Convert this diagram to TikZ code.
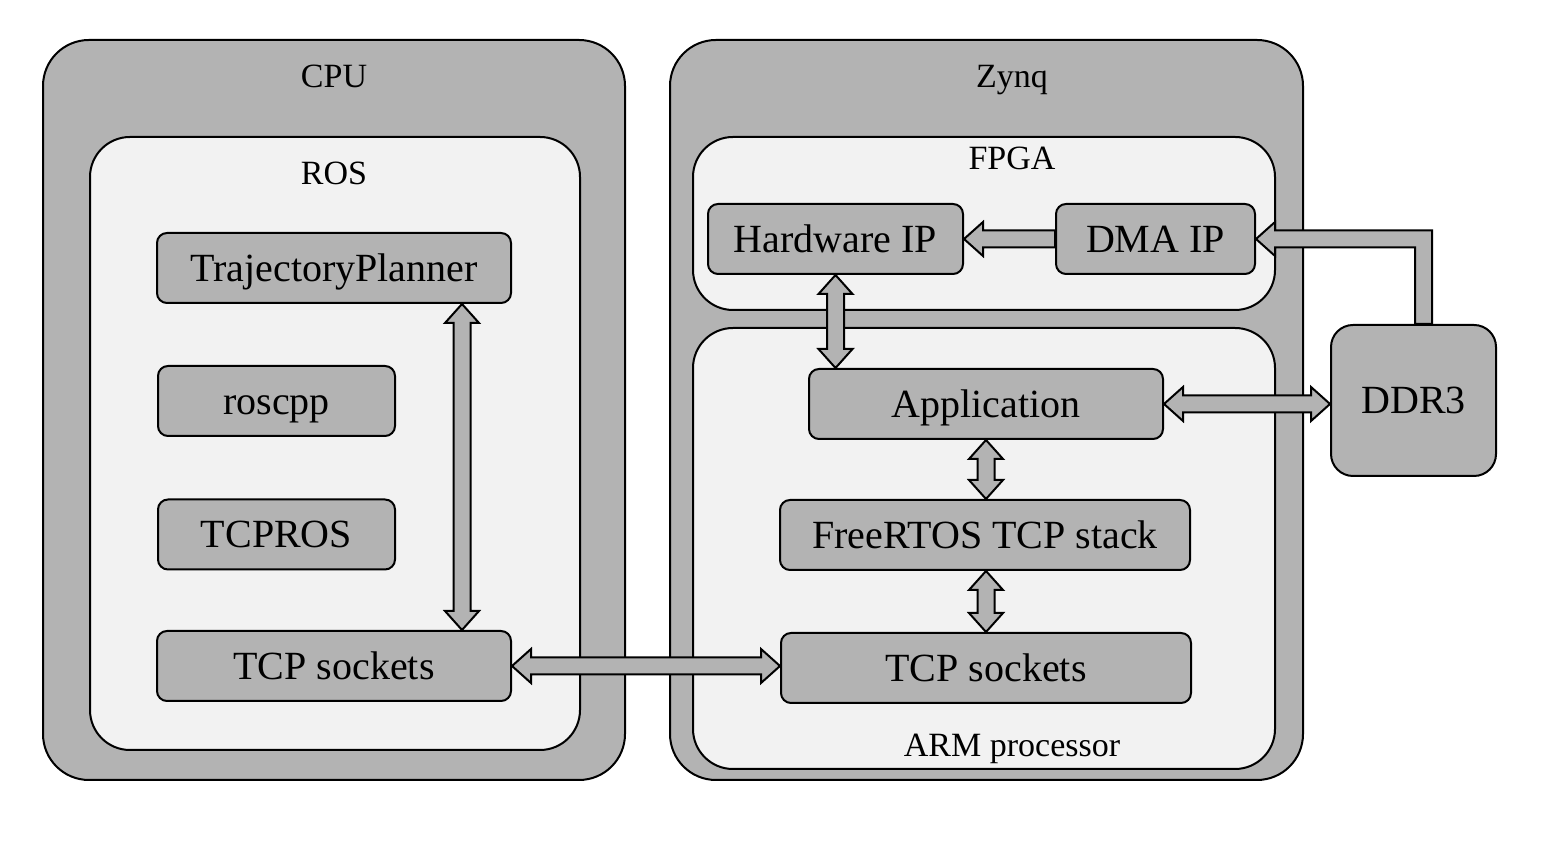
\documentclass[tikz,border=0pt]{standalone}
\usepackage{fontspec}
\setmainfont{Liberation Serif}
\usepackage{tikz}
\usetikzlibrary{calc,positioning}

\definecolor{boxgray}{RGB}{179,179,179}
\definecolor{layergray}{RGB}{242,242,242}

% block arrow sizes
\newcommand{\arrowhl}{9.5pt}
\newcommand{\arrowhw}{8.5pt}
\newcommand{\arrowsw}{4.25pt}

% double block arrow between two points
\newcommand{\dblarrow}[2]{%
	\draw[flow] (#1)
	-- ($(#1)!\arrowhl!(#2)!\arrowhw!90:(#2)$)
	-- ($(#1)!\arrowhl!(#2)!\arrowsw!90:(#2)$)
	-- ($(#2)!\arrowhl!(#1)!\arrowsw!-90:(#1)$)
	-- ($(#2)!\arrowhl!(#1)!\arrowhw!-90:(#1)$)
	-- (#2)
	-- ($(#2)!\arrowhl!(#1)!\arrowhw!90:(#1)$)
	-- ($(#2)!\arrowhl!(#1)!\arrowsw!90:(#1)$)
	-- ($(#1)!\arrowhl!(#2)!\arrowsw!-90:(#2)$)
	-- ($(#1)!\arrowhl!(#2)!\arrowhw!-90:(#2)$)
	-- cycle;}

% single block arrow, tail to head
\newcommand{\onearrow}[2]{%
	\draw[flow] ($(#1)!\arrowsw!90:(#2)$)
	-- ($(#2)!\arrowhl!(#1)!\arrowsw!-90:(#1)$)
	-- ($(#2)!\arrowhl!(#1)!\arrowhw!-90:(#1)$)
	-- (#2)
	-- ($(#2)!\arrowhl!(#1)!\arrowhw!90:(#1)$)
	-- ($(#2)!\arrowhl!(#1)!\arrowsw!90:(#1)$)
	-- ($(#1)!\arrowsw!-90:(#2)$)
	-- cycle;}

\begin{document}
\begin{tikzpicture}[
	x=0.5pt,y=0.5pt,
	% Outer boxes
	container/.style={draw,line width=1pt,fill=boxgray,rounded corners=23pt},
	% Inner layers
	layer/.style={draw,line width=1pt,fill=layergray,rounded corners=20pt},
	% Blocks
	block/.style={draw,line width=1pt,fill=boxgray,rounded corners=5pt,
		minimum height=35pt,text height=13.2pt,text depth=0pt,
		font=\fontsize{20}{24}\selectfont},
	title/.style={text height=11.2pt,text depth=0pt,font=\fontsize{17}{20}\selectfont},
	flow/.style={draw,line width=1pt,fill=boxgray,line join=miter}
	]
	\useasboundingbox[fill=white] (0,0) rectangle (1556,850);

	%% Containers
	\node (cpu) [container,minimum width=291pt,minimum height=370pt] at (334,440) {};
	\node (ros) [layer,minimum width=245pt,minimum height=306.5pt] at (335,406.5) {};
	\node (zynq) [container,minimum width=316.5pt,minimum height=370pt] at (986.5,440) {};
	\node (fpga) [layer,minimum width=291pt,minimum height=86.5pt] at (984,626.5) {};
	\node (arm) [layer,minimum width=291pt,minimum height=220.5pt] at (984,301.5) {};

	\node (cputitle) [title] at (334,774) {CPU};
	\node (rostitle) [title] at (334,677) {ROS};
	\node (zynqtitle) [title] at (1012,774) {Zynq};
	\node (fpgatitle) [title] at (1012,692) {FPGA};
	\node (armtitle) [title] at (1012,105) {ARM processor};

	%% Blocks
	\node (traj) [block,minimum width=177pt] at (334,582) {TrajectoryPlanner};
	\node (roscpp) [block,minimum width=118.5pt] at (276.5,449) {roscpp};
	\node (tcpros) [block,minimum width=118.5pt] at (276.5,315.5) {TCPROS};
	\node (sockl) [block,minimum width=177pt] at (334,184) {TCP sockets};
	\node (hwip) [block,minimum width=127.5pt] at (835.5,611) {Hardware IP};
	\node (dmaip) [block,minimum width=99.5pt] at (1155.5,611) {DMA IP};
	\node (app) [block,minimum width=177pt] at (986,446) {Application};
	\node (rtos) [block,minimum width=205pt] at (985,315) {FreeRTOS TCP stack};
	\node (sockr) [block,minimum width=205pt] at (986,182) {TCP sockets};
	\node (ddr) [block,minimum width=82.5pt,minimum height=75.5pt,rounded corners=11pt] at (1413.5,449.5) {DDR3};

	%% Arrows
	\coordinate (trajout) at ([xshift=64pt]traj.south);
	\coordinate (socklin) at ([xshift=64pt]sockl.north);
	\coordinate (appin) at (hwip.south |- app.north);
	\coordinate (ddrin) at (app.east -| ddr.west);
	\coordinate (rtosin) at (app.south |- rtos.north);
	\coordinate (rtosout) at (sockr.north |- rtos.south);
	\coordinate (sockrin) at (sockl.east -| sockr.west);
	\coordinate (ddrout) at ([xshift=5pt]ddr.north);
	\coordinate (bend) at (ddrout |- dmaip.east);

	\dblarrow{trajout}{socklin}
	\dblarrow{hwip.south}{appin}
	\dblarrow{app.east}{ddrin}
	\dblarrow{app.south}{rtosin}
	\dblarrow{rtosout}{sockr.north}
	\dblarrow{sockl.east}{sockrin}
	\onearrow{dmaip.west}{hwip.east}
	\draw[flow] ([xshift=-\arrowsw]ddrout)
	-- ([shift={(-\arrowsw,-\arrowsw)}]bend)
	-- ([shift={(\arrowhl,-\arrowsw)}]dmaip.east)
	-- ([shift={(\arrowhl,-\arrowhw)}]dmaip.east)
	-- (dmaip.east)
	-- ([shift={(\arrowhl,\arrowhw)}]dmaip.east)
	-- ([shift={(\arrowhl,\arrowsw)}]dmaip.east)
	-- ([shift={(\arrowsw,\arrowsw)}]bend)
	-- ([xshift=\arrowsw]ddrout)
	-- cycle;
\end{tikzpicture}
\end{document}
